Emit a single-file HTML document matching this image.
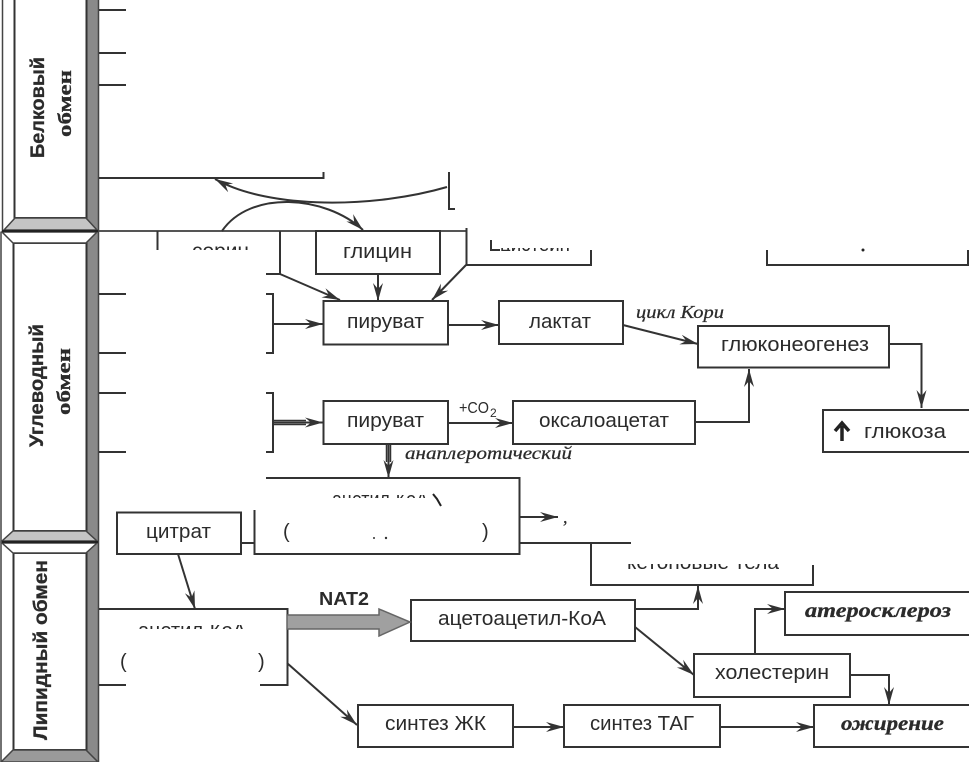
<!DOCTYPE html>
<html lang="ru">
<head>
<meta charset="utf-8">
<title>Схема обмена</title>
<style>
html,body{margin:0;padding:0;background:#fff;width:969px;height:762px;overflow:hidden}
svg{display:block}
text{font-family:"Liberation Sans","DejaVu Sans",sans-serif;fill:#2b2b2b}
.t{font-size:20px}
.i{font-family:"Liberation Serif",serif;font-size:18px;font-style:italic;stroke:#2b2b2b;stroke-width:.25px}
.b{font-family:"Liberation Serif","DejaVu Serif",serif;font-size:21px;font-weight:bold;font-style:italic;stroke:#2b2b2b;stroke-width:.3px}
.r{font-family:"Liberation Sans",sans-serif;font-size:19px;font-weight:bold;stroke:#2b2b2b;stroke-width:.3px}
.l{fill:none;stroke:#333;stroke-width:2}
.box{fill:#fff;stroke:#333;stroke-width:2}
</style>
</head>
<body>
<svg width="969" height="762" viewBox="0 0 969 762" xmlns="http://www.w3.org/2000/svg">
<defs>
<marker id="a" markerUnits="userSpaceOnUse" markerWidth="20" markerHeight="14" refX="18" refY="7" orient="auto">
<path d="M0,2 L18,7 L0,12 L6,7 Z" fill="#333"/>
</marker>
</defs>
<rect width="969" height="762" fill="#fff"/>

<!-- left rail -->
<rect x="86" y="0" width="12" height="762" fill="#8a8a8a"/>
<line x1="98.500" y1="0" x2="98.500" y2="762" stroke="#444" stroke-width="1.500"/>
<line x1="2.500" y1="0" x2="2.500" y2="231" stroke="#444" stroke-width="1.500"/>
<line x1="1" y1="232" x2="1" y2="762" stroke="#444" stroke-width="1.500"/>
<rect x="14.500" y="-3" width="72" height="221" class="box"/>
<rect x="13.500" y="243" width="73" height="288" class="box"/>
<rect x="13.500" y="553" width="73" height="197" class="box"/>
<polygon points="15,218 86,218 97,230 4,230" fill="#c4c4c4" stroke="#444" stroke-width="1.500"/>
<polygon points="2,232 97,232 86,243 13,243" fill="#fff" stroke="#444" stroke-width="1.500"/>
<polygon points="13,531 86,531 97,541 2,541" fill="#c4c4c4" stroke="#444" stroke-width="1.500"/>
<polygon points="2,543 97,543 86,553 13,553" fill="#fff" stroke="#444" stroke-width="1.500"/>
<polygon points="13,750 86,750 98,762 1,762" fill="#9a9a9a" stroke="#444" stroke-width="1.500"/>
<line x1="2" y1="231" x2="98" y2="231" stroke="#222" stroke-width="2"/>
<line x1="2" y1="542" x2="98" y2="542" stroke="#222" stroke-width="2"/>

<text class="r" transform="translate(44,158) rotate(-90)" textLength="101" lengthAdjust="spacingAndGlyphs">Белковый</text>
<text class="r" transform="translate(71,137) rotate(-90)" textLength="67" lengthAdjust="spacingAndGlyphs" style="font-family:'Liberation Serif',serif">обмен</text>
<text class="r" transform="translate(43,447) rotate(-90)" textLength="123" lengthAdjust="spacingAndGlyphs">Углеводный</text>
<text class="r" transform="translate(70,415) rotate(-90)" textLength="67" lengthAdjust="spacingAndGlyphs" style="font-family:'Liberation Serif',serif">обмен</text>
<text class="r" transform="translate(47,740) rotate(-90)" textLength="180" lengthAdjust="spacingAndGlyphs">Липидный обмен</text>

<!-- ticks -->
<path class="l" d="M99,10H126M99,53H126M99,85H126M99,294H126M99,353H126M99,393H126M99,452H126"/>
<line x1="99" y1="231" x2="466" y2="231" stroke="#555" stroke-width="2"/>
<path class="l" d="M99,178H323.500V172"/>
<path class="l" d="M449,172V209H455"/>
<path class="l" d="M157.500,231V250"/>
<path class="l" d="M280,231V274H266"/>
<path class="l" d="M466.500,228V265H591V250"/>
<path class="l" d="M767,250V265H968V250"/>
<circle cx="863" cy="250" r="1.500" fill="#222"/>
<path class="l" d="M491,240V250H500"/>

<!-- clipped top labels -->
<svg x="180" y="246" width="80" height="4"><text class="t" x="12" y="11.500" textLength="57" lengthAdjust="spacingAndGlyphs">серин</text></svg>
<svg x="500" y="248" width="75" height="3"><text class="t" x="0" y="3" textLength="70" lengthAdjust="spacingAndGlyphs">цистеин</text></svg>

<!-- curves -->
<path class="l" marker-end="url(#a)" d="M447,187 C375,208 270,210 215,179"/>
<path class="l" marker-end="url(#a)" d="M222,231 C250,190 325,195 363,230"/>

<!-- boxes -->
<rect x="316" y="231" width="124" height="43" class="box"/>
<rect x="323.500" y="301" width="124.500" height="43.500" class="box"/>
<rect x="499" y="301" width="124" height="43" class="box"/>
<rect x="698" y="326" width="191" height="41.500" class="box"/>
<rect x="823" y="410" width="150" height="42" class="box"/>
<rect x="323.500" y="401" width="124.500" height="43" class="box"/>
<rect x="513" y="401" width="182" height="43" class="box"/>
<rect x="117" y="512.500" width="124" height="41.500" class="box"/>
<rect x="411" y="600" width="224" height="41" class="box"/>
<rect x="694" y="654" width="156" height="43" class="box"/>
<rect x="785" y="592" width="188" height="43" class="box"/>
<rect x="358" y="705" width="155" height="42" class="box"/>
<rect x="564" y="705" width="156" height="42" class="box"/>
<rect x="814" y="705" width="159" height="42" class="box"/>

<text class="t" x="343" y="258" textLength="69" lengthAdjust="spacingAndGlyphs">глицин</text>
<text class="t" x="347" y="328" textLength="77" lengthAdjust="spacingAndGlyphs">пируват</text>
<text class="t" x="529" y="328" textLength="62" lengthAdjust="spacingAndGlyphs">лактат</text>
<text class="t" x="721" y="351" textLength="148" lengthAdjust="spacingAndGlyphs">глюконеогенез</text>
<text class="t" x="864" y="438" textLength="82" lengthAdjust="spacingAndGlyphs">глюкоза</text>
<path d="M842,441V426M835,431L842,423L849,431" fill="none" stroke="#222" stroke-width="3.500"/>
<text class="t" x="347" y="427" textLength="77" lengthAdjust="spacingAndGlyphs">пируват</text>
<text class="t" x="539" y="427" textLength="130" lengthAdjust="spacingAndGlyphs">оксалоацетат</text>
<text class="t" x="146" y="538" textLength="65" lengthAdjust="spacingAndGlyphs">цитрат</text>
<text class="t" x="438" y="625" textLength="168" lengthAdjust="spacingAndGlyphs">ацетоацетил-КоА</text>
<text class="t" x="715" y="679" textLength="114" lengthAdjust="spacingAndGlyphs">холестерин</text>
<text class="t" x="385" y="730" textLength="101" lengthAdjust="spacingAndGlyphs">синтез ЖК</text>
<text class="t" x="590" y="730" textLength="104" lengthAdjust="spacingAndGlyphs">синтез ТАГ</text>
<text class="b" x="805" y="617" textLength="146" lengthAdjust="spacingAndGlyphs">атеросклероз</text>
<text class="b" x="841" y="730" textLength="103" lengthAdjust="spacingAndGlyphs">ожирение</text>
<text x="319" y="605" font-size="18" font-weight="bold" textLength="50" lengthAdjust="spacingAndGlyphs">NAT2</text>
<text class="i" x="636" y="318" textLength="88" lengthAdjust="spacingAndGlyphs">цикл Кори</text>
<text class="i" x="405" y="459" textLength="167" lengthAdjust="spacingAndGlyphs">анаплеротический</text>
<text x="459" y="413" font-size="16" textLength="30" lengthAdjust="spacingAndGlyphs">+CO</text>
<text x="490" y="417" font-size="12">2</text>

<!-- big acetyl boxes -->
<path class="l" d="M266,478H519.500V554H254.500V510"/>
<path class="l" d="M241,543H254"/>
<path class="l" d="M520,543H631"/>
<path class="l" d="M591,543V585H813V565"/>
<svg x="620" y="564" width="170" height="6"><text class="t" x="7" y="5" textLength="152" lengthAdjust="spacingAndGlyphs">кетоновые тела</text></svg>
<svg x="325" y="495" width="105" height="3"><text class="t" x="7" y="11" textLength="96" lengthAdjust="spacingAndGlyphs">ацетил-КоА</text></svg>
<path d="M433,494L437,499L441,506" fill="none" stroke="#222" stroke-width="2"/>
<text x="283" y="538" font-size="20">(</text>
<text x="482" y="538" font-size="20">)</text>
<circle cx="374" cy="538" r="1" fill="#333"/><circle cx="386" cy="538" r="1.200" fill="#333"/>
<text class="i" x="563" y="523">,</text>

<path class="l" d="M99,609H287.500V685H260M99,685H126"/>
<svg x="135" y="625" width="115" height="4"><text class="t" x="3" y="12" textLength="108" lengthAdjust="spacingAndGlyphs">ацетил-КоА</text></svg>
<text x="120" y="668" font-size="20">(</text>
<text x="258" y="668" font-size="20">)</text>

<!-- big arrow -->
<polygon points="287,615 379,615 379,609 410,622 379,636 379,629 287,629" fill="#a0a0a0" stroke="#666" stroke-width="1.500"/>

<!-- brackets -->
<path class="l" d="M266,294H273V353H266"/>
<path class="l" d="M266,393H273V452H266"/>

<!-- arrows -->
<g class="l">
<path class="l" marker-end="url(#a)" d="M280,274L340,300"/>
<path class="l" marker-end="url(#a)" d="M378,274V301"/>
<path class="l" marker-end="url(#a)" d="M466,265L432,300"/>
<path class="l" marker-end="url(#a)" d="M273,324H323"/>
<path class="l" marker-end="url(#a)" d="M448,325H499"/>
<path class="l" marker-end="url(#a)" d="M623,325L698,344"/>
<path class="l" marker-end="url(#a)" d="M889,344H921.500V408"/>
<path class="l" marker-end="url(#a)" d="M273,422.500H323"/>
<path d="M273,420.500H306M273,424.500H306" fill="none" stroke="#333" stroke-width="1.500"/>
<path class="l" marker-end="url(#a)" d="M448,423H513"/>
<path class="l" marker-end="url(#a)" d="M695,422H749V369"/>
<path class="l" marker-end="url(#a)" d="M388.500,444V478"/>
<path d="M386.500,444V462M390.500,444V462" fill="none" stroke="#333" stroke-width="1.500"/>
<path class="l" marker-end="url(#a)" d="M520,517H558"/>
<path class="l" marker-end="url(#a)" d="M178,554L195,609"/>
<path class="l" marker-end="url(#a)" d="M635,609H698V586"/>
<path class="l" marker-end="url(#a)" d="M635,627L694,675"/>
<path class="l" marker-end="url(#a)" d="M755,654V609H785"/>
<path class="l" marker-end="url(#a)" d="M850,675H889V705"/>
<path class="l" marker-end="url(#a)" d="M287,663L357,725"/>
<path class="l" marker-end="url(#a)" d="M513,727H564"/>
<path class="l" marker-end="url(#a)" d="M720,727H814"/>
</g>
</svg>
</body>
</html>
